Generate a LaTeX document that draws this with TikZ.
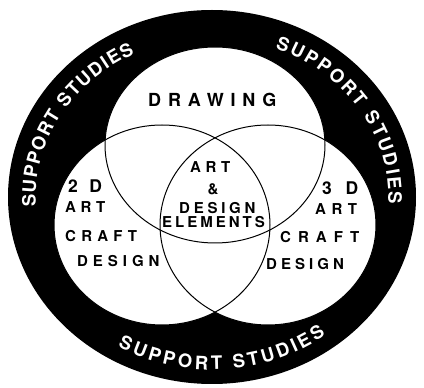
\documentclass[tikz,border=0pt]{standalone}
\usepackage{fontspec}
\setsansfont{TeX Gyre Heros}
\usetikzlibrary{decorations.text}
\newcommand\lbfont{\sffamily\bfseries}

\begin{document}
\begin{tikzpicture}[x=1pt,y=1pt,
    lab/.style 2 args={inner sep=0pt,anchor=base west,
      font=\lbfont\fontsize{#1}{#1}\selectfont\addfontfeature{LetterSpace=#2}},
    rim/.style={line width=1pt,draw=black},
    ringtext/.style={decorate,decoration={text along path,
      text={|\lbfont\fontsize{18.5}{18.5}\selectfont\color{white}|#1},
      text align={fit to path},raise=-6.7pt}}]
  \useasboundingbox (0,0) rectangle (424,388);
  \coordinate (oc) at (212,191);
  \coordinate (tc) at (215,243);
  \coordinate (lc) at (162,163);
  \coordinate (rc) at (268,163);
  \fill[black] (oc) ellipse [x radius=204,y radius=187];
  \fill[white] (tc) ellipse [x radius=110,y radius=98];
  \fill[white] (lc) ellipse [x radius=108,y radius=100];
  \fill[white] (rc) ellipse [x radius=108,y radius=100];
  \draw[rim] (tc) ellipse [x radius=110,y radius=98];
  \draw[rim] (lc) ellipse [x radius=108,y radius=100];
  \draw[rim] (rc) ellipse [x radius=108,y radius=100];
  \path[ringtext={SUPPORT STUDIES}] (oc) ++(183.5:183 and 166)
    arc[start angle=183.5,end angle=116,x radius=183,y radius=166];
  \path[ringtext={SUPPORT STUDIES}] (oc) ++(69:183 and 166)
    arc[start angle=69,end angle=-2.5,x radius=183,y radius=166];
  \path[ringtext={SUPPORT STUDIES}] (oc) ++(-120:183 and 166)
    arc[start angle=-120,end angle=-53,x radius=183,y radius=166];
  \node[lab={18}{38}] (drawing) at (148,281) {DRAWING};
  \node[lab={15}{31}] (artc) at (190,215) {ART};
  \node[lab={15}{0},anchor=base] (amp) at (213,193) {\&};
  \node[lab={15}{25}] (designc) at (179,174) {DESIGN};
  \node[lab={15}{20}] (elements) at (162,160) {ELEMENTS};
  \node[lab={17.5}{66}] (twod) at (68,195) {2D};
  \node[lab={15}{31}] (artl) at (65,175) {ART};
  \node[lab={15}{35}] (craftl) at (65,146) {CRAFT};
  \node[lab={15}{33}] (designl) at (77,121) {DESIGN};
  \node[lab={17.5}{78}] (threed) at (322,193) {3D};
  \node[lab={15}{37}] (artr) at (315,173) {ART};
  \node[lab={15}{47}] (craftr) at (280,145) {CRAFT};
  \node[lab={15}{27}] (designr) at (266,118) {DESIGN};
\end{tikzpicture}
\end{document}
